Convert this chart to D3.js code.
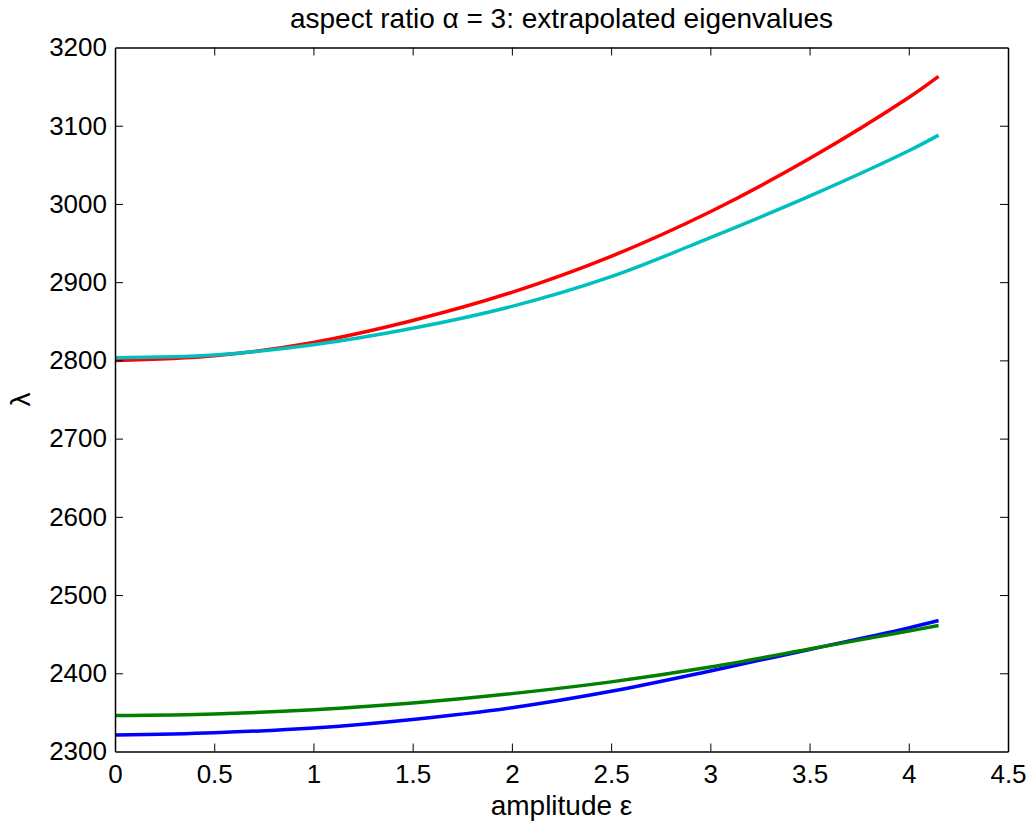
<!DOCTYPE html>
<html>
<head>
<meta charset="utf-8">
<script src="https://cdn.jsdelivr.net/npm/d3@7"></script>
<style>
  body { margin: 0; background: #fff; }
  svg text { font-family: "Liberation Sans", Arial, sans-serif; fill: #000; }
</style>
</head>
<body>
<svg id="chart" width="1032" height="822"></svg>
<script>
// amplitude values where the curves were read
const amplitude = [0, 0.5, 1, 1.5, 2, 2.5, 3, 3.5, 4, 4.15];
// eigenvalue branches
const blueVals  = [2321, 2324, 2330, 2341, 2356, 2377, 2403, 2430.5, 2458, 2467.5];
const greenVals = [2346, 2348, 2353.5, 2362, 2374, 2389, 2408, 2431, 2454, 2461];
const redVals   = [2800, 2806, 2823, 2851, 2887, 2933, 2990, 3058, 3136, 3163];
const cyanVals  = [2803.5, 2807, 2820, 2841, 2869, 2907, 2957, 3010, 3068, 3088];

const xTicks = [0, 0.5, 1, 1.5, 2, 2.5, 3, 3.5, 4, 4.5];
const yTicks = [2300, 2400, 2500, 2600, 2700, 2800, 2900, 3000, 3100, 3200];

const series = [
  { name: 'blue', values: blueVals, color: '#0000ff' },
  { name: 'green', values: greenVals, color: '#008000' },
  { name: 'red', values: redVals, color: '#ff0000' },
  { name: 'cyan', values: cyanVals, color: '#00bfbf' }
];

const margin = { left: 115, top: 47.5, right: 1008, bottom: 751.5 };

const svg = d3.select('#chart');

const x = d3.scaleLinear().domain([0, 4.5]).range([margin.left, margin.right]);
const y = d3.scaleLinear().domain([2300, 3200]).range([margin.bottom, margin.top]);

const tickLen = 8;

// lines
const line = d3.line()
  .x((d, i) => x(amplitude[i]))
  .y(d => y(d))
  .curve(d3.curveCatmullRom.alpha(0.5));

svg.append('g')
  .selectAll('path')
  .data(series)
  .enter()
  .append('path')
    .attr('d', d => line(d.values))
    .attr('fill', 'none')
    .attr('stroke', d => d.color)
    .attr('stroke-width', 3.5)
    .attr('stroke-linejoin', 'round');

// axes (inward ticks on all four sides, matlab style)
const bottomAxis = d3.axisBottom(x).tickValues(xTicks).tickSize(-tickLen).tickSizeOuter(0)
  .tickFormat(d3.format('~g'));
const topAxis = d3.axisTop(x).tickValues(xTicks).tickSize(-tickLen).tickSizeOuter(0).tickFormat('');
const leftAxis = d3.axisLeft(y).tickValues(yTicks).tickSize(-tickLen).tickSizeOuter(0)
  .tickFormat(d3.format('d')).tickPadding(8);
const rightAxis = d3.axisRight(y).tickValues(yTicks).tickSize(-tickLen).tickSizeOuter(0).tickFormat('');

function styleAxis(g) {
  g.select('.domain').attr('stroke', '#000').attr('stroke-width', 1.5);
  g.selectAll('.tick line').attr('stroke', '#000').attr('stroke-width', 1);
  g.selectAll('.tick text').attr('font-size', 26).attr('fill', '#000')
    .style('font-family', '"Liberation Sans", Arial, sans-serif');
}

svg.append('g').attr('transform', `translate(0,${margin.bottom})`).call(bottomAxis).call(styleAxis)
  .selectAll('.tick text').attr('dy', '0.71em').attr('y', 13);
svg.append('g').attr('transform', `translate(0,${margin.top})`).call(topAxis).call(styleAxis);
svg.append('g').attr('transform', `translate(${margin.left},0)`).call(leftAxis).call(styleAxis);
svg.append('g').attr('transform', `translate(${margin.right},0)`).call(rightAxis).call(styleAxis);

// hide the tick at the corners so they don't overlap the frame
svg.selectAll('.tick line').filter(function(d) {
  return d === 0 || d === 4.5 || d === 2300 || d === 3200;
}).attr('stroke', 'none');

// title and labels
svg.append('text')
  .attr('x', (margin.left + margin.right) / 2)
  .attr('y', 28)
  .attr('text-anchor', 'middle')
  .attr('font-size', 28)
  .text('aspect ratio \u03b1 = 3: extrapolated eigenvalues');

svg.append('text')
  .attr('x', (margin.left + margin.right) / 2)
  .attr('y', 815)
  .attr('text-anchor', 'middle')
  .attr('font-size', 28)
  .text('amplitude \u03b5');

svg.append('text')
  .attr('transform', `translate(30,${(margin.top + margin.bottom) / 2}) rotate(-90)`)
  .attr('text-anchor', 'middle')
  .attr('font-size', 28)
  .text('\u03bb');
</script>
</body>
</html>
